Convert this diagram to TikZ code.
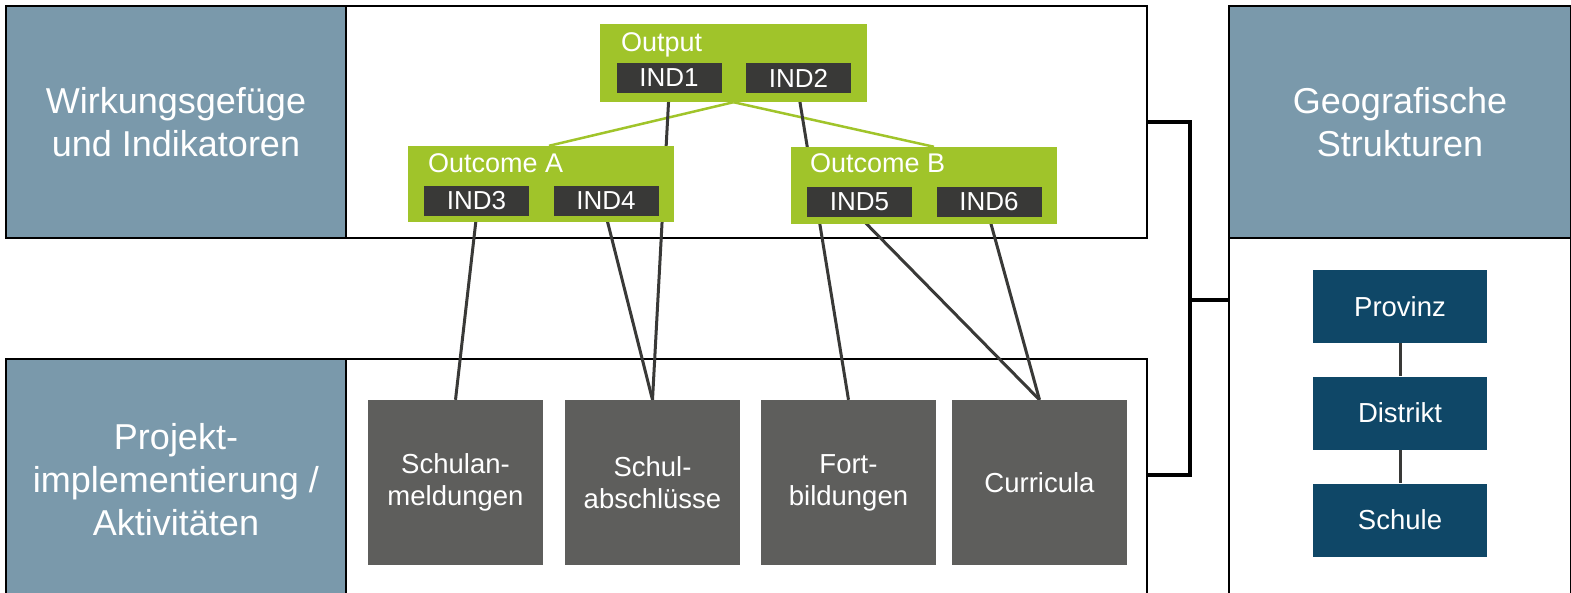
\documentclass[tikz,border=0pt]{standalone}
\usepackage{fontspec}
\setmainfont{Liberation Sans}
\usetikzlibrary{calc}
\pgfdeclarelayer{frames}
\pgfdeclarelayer{links}
\pgfsetlayers{frames,links,main}
\definecolor{panelblue}{HTML}{7A99AB}
\definecolor{lime}{HTML}{A0C42A}
\definecolor{inddark}{HTML}{393937}
\definecolor{actgray}{HTML}{5E5E5C}
\definecolor{geoblue}{HTML}{0F4767}

\begin{document}
\begin{tikzpicture}[x=1pt,y=-1pt,
  box/.style={inner sep=0pt, text=white, align=center},
  frame/.style={draw=black, line width=1.5pt, fill=white, inner sep=0pt},
  panel/.style={frame, fill=panelblue, text=white, align=center,
    font=\fontsize{36}{43}\selectfont},
  group/.style={box, fill=lime, minimum width=266pt, minimum height=77pt},
  grouplabel/.style={text=white, font=\fontsize{27}{32}\selectfont,
    inner sep=0pt, anchor=base west},
  ind/.style={box, fill=inddark, minimum width=105pt, minimum height=30pt,
    font=\fontsize{26}{30}\selectfont},
  activity/.style={box, fill=actgray, minimum width=175pt, minimum height=165pt,
    font=\fontsize{27.5}{32}\selectfont},
  geolevel/.style={box, fill=geoblue, minimum width=174pt, minimum height=73pt,
    font=\fontsize{27.5}{32}\selectfont},
  link/.style={line width=3pt, draw=inddark},
  greenlink/.style={line width=2.5pt, draw=lime},
  bus/.style={line width=3.5pt, draw=black},
]
\useasboundingbox (0,0) rectangle (1571,592);

%--- frames and panels ----------------------------------------------------
\begin{pgfonlayer}{frames}
\node[frame, minimum width=1141pt, minimum height=232pt] (wirkframe) at (576.5,122) {};
\node[panel, minimum width=340pt, minimum height=232pt] (wirkpanel) at (176,122)
  {Wirkungsgefüge\\und Indikatoren};
\node[frame, minimum width=1141pt, minimum height=241pt] (implframe) at (576.5,479.5) {};
\node[panel, minimum width=340pt, minimum height=241pt] (implpanel) at (176,479.5)
  {Projekt-\\implementierung /\\Aktivitäten};
\node[frame, minimum width=342pt, minimum height=362pt] (geoframe) at (1400,419) {};
\node[panel, minimum width=342pt, minimum height=232pt] (geopanel) at (1400,122)
  {Geografische\\Strukturen};
\end{pgfonlayer}

%--- outcome groups with indicators ---------------------------------------
\node[group, minimum width=267pt, minimum height=78pt] (outgrp) at (733.5,63) {};
\node[grouplabel] (outlbl) at ($(outgrp.north west)+(21,28)$) {Output};
\node[ind] (ind1) at (669,78) {IND1};
\node[ind] (ind2) at (798.5,78) {IND2};

\node[group, minimum height=76pt] (oagrp) at (541,184) {};
\node[grouplabel] (oalbl) at ($(oagrp.north west)+(20,27)$) {Outcome A};
\node[ind] (ind3) at (476.5,200.5) {IND3};
\node[ind] (ind4) at (606,200.5) {IND4};

\node[group] (obgrp) at (924,185.5) {};
\node[grouplabel] (oblbl) at ($(obgrp.north west)+(19,26)$) {Outcome B};
\node[ind] (ind5) at (859.5,201.5) {IND5};
\node[ind] (ind6) at (989,201.5) {IND6};

%--- activities -----------------------------------------------------------
\foreach \nm/\cx/\txt in {anmeld/455.5/{Schulan-\\meldungen},
    abschl/652.5/{Schul-\\abschlüsse}, fortb/848.5/{Fort-\\bildungen},
    curric/1039.5/Curricula}
  \node[activity] (\nm) at (\cx,482.5) {\txt};

%--- geographic levels ----------------------------------------------------
\foreach \nm/\cy/\txt in {provinz/306.5/Provinz, distrikt/413/Distrikt, schule/520/Schule}
  \node[geolevel] (\nm) at (1400,\cy) {\txt};

%--- connectors -----------------------------------------------------------
\begin{pgfonlayer}{links}
\draw[greenlink] (outgrp.south) -- ($(oagrp.north)+(8,0)$);
\draw[greenlink] (outgrp.south) -- ($(obgrp.north)+(10,0)$);

\draw[link] (ind1.south) -- (abschl.north);
\draw[link] (ind2.south) -- (fortb.north);
\draw[link] (ind3.south) -- (anmeld.north);
\draw[link] (ind4.south) -- (abschl.north);
\draw[link] (ind5.south) -- (curric.north);
\draw[link] (ind6.south) -- (curric.north);

\draw[link] (provinz) -- (distrikt);
\draw[link] (distrikt) -- (schule);

\coordinate (bus) at (1190,300);
\draw[bus] (wirkframe.east) -| (bus) |- ([yshift=4.5pt]implframe.east);
\draw[bus] (bus) -- (bus -| geoframe.west);
\end{pgfonlayer}

\end{tikzpicture}
\end{document}
